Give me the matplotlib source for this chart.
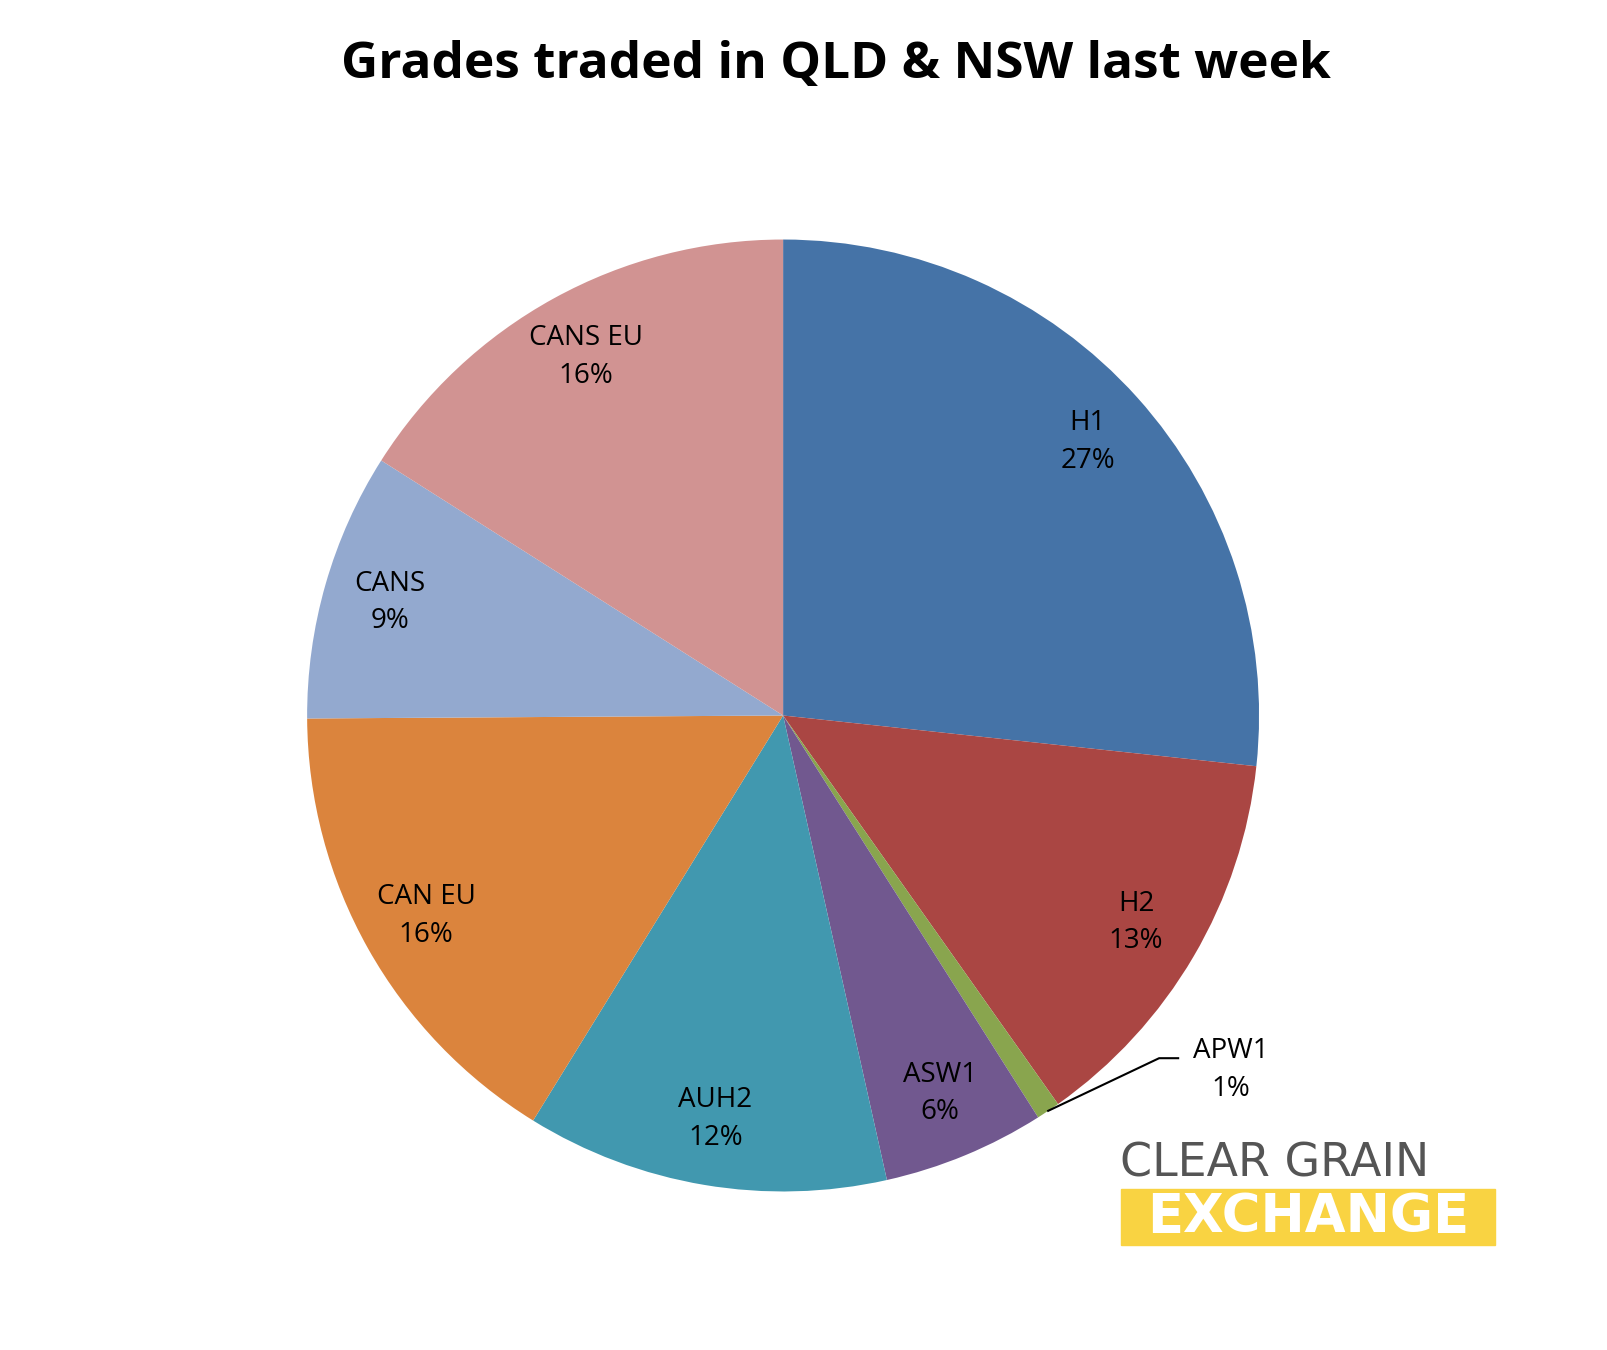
import matplotlib
matplotlib.use("Agg")
import matplotlib.pyplot as plt
import numpy as np
from matplotlib.patches import Rectangle

labels = ["H1", "H2", "APW1", "ASW1", "AUH2", "CAN EU", "CANS", "CANS EU"]
values = [26.7, 13.5, 0.8, 5.5, 12.3, 16.1, 9.1, 16.0]
pct_labels = ["27%", "13%", "1%", "6%", "12%", "16%", "9%", "16%"]
colors = ["#4573A7", "#AA4643", "#89A54E", "#71588F", "#4198AF", "#DB843D", "#93A9CF", "#D19392"]

plt.rcParams['font.family'] = ['Open Sans', 'DejaVu Sans']
fig = plt.figure(figsize=(16.08, 13.5), dpi=100)
ax = fig.add_axes([0.487 - 0.296, 0.470 - 0.3526, 0.592, 0.7052])
wedges, _ = ax.pie(values, colors=colors, startangle=90, counterclock=False,
                   wedgeprops=dict(linewidth=0))
ax.set_aspect('equal')
ax.set_xlim(-1, 1); ax.set_ylim(-1, 1)

fs = 20
for w, lab, p in zip(wedges, labels, pct_labels):
    mid = np.deg2rad((w.theta1 + w.theta2) / 2)
    if lab == "APW1":
        x0, y0 = 1.0 * np.cos(mid), 1.0 * np.sin(mid)
        ax.plot([x0, 0.79, 0.83], [y0, -0.72, -0.72], color='black', lw=1.5, clip_on=False)
        ax.text(0.94, -0.745, f"{lab}\n{p}", ha='center', va='center', fontsize=fs, linespacing=1.45)
        continue
    r = 0.86
    ax.text(r * np.cos(mid), r * np.sin(mid), f"{lab}\n{p}", ha='center', va='center',
            fontsize=fs, linespacing=1.45)

fig.text(0.52, 0.952, "Grades traded in QLD & NSW last week", ha='center', va='center',
         fontsize=37, fontweight='bold')

fig.text(0.6965, 0.138, "CLEAR GRAIN", ha='left', va='center', fontsize=33, color='#555555',
         family='DejaVu Sans')
fig.add_artist(Rectangle((0.697, 0.078), 0.233, 0.041, transform=fig.transFigure,
                         color='#F9D342', zorder=1))
fig.text(0.8135, 0.0985, "EXCHANGE", ha='center', va='center', fontsize=38, fontweight='bold',
         color='white', zorder=2, family='DejaVu Sans')

fig.savefig("out.png", dpi=100, facecolor='white')
